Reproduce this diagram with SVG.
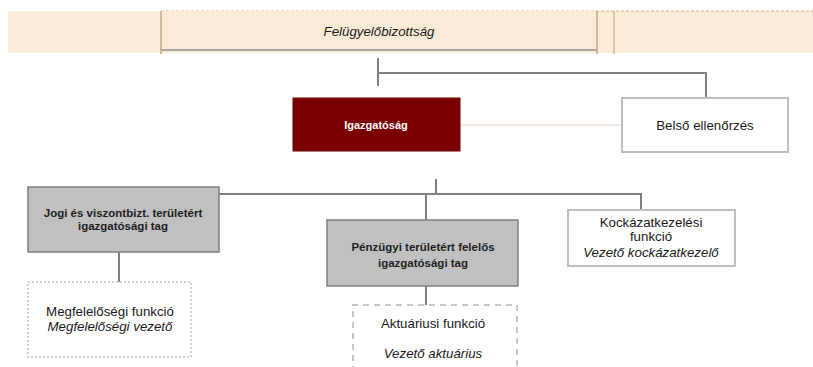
<svg xmlns="http://www.w3.org/2000/svg" width="813" height="367" viewBox="0 0 813 367">
<style>
.t{font-family:"Liberation Sans",Arial,sans-serif;font-size:13.3px;fill:#1a1a1a;text-anchor:middle}
.i{font-style:italic}
.b{font-weight:bold;font-size:11.5px;fill:#1e1e1e}
.conn{stroke:#808080;stroke-width:2;fill:none}
.gray{fill:#c0c0c0;stroke:#7f7f7f;stroke-width:1.5}
.white{fill:#ffffff;stroke:#bfbfbf;stroke-width:2}
</style>
<rect width="813" height="367" fill="#ffffff"/>
<g id="band">
<rect x="8" y="11" width="805" height="42" fill="#fbebd9"/>
<line x1="161" y1="11" x2="813" y2="11" stroke="#d6b77a" stroke-width="1.2" stroke-dasharray="3,2"/>
<line x1="614" y1="11" x2="614" y2="54" stroke="#d9b98a" stroke-width="1.5"/>
</g>
<g id="felugyelobizottsag">
<rect x="161" y="11" width="436" height="39" fill="#faebd8"/>
<line x1="161" y1="50" x2="597" y2="50" stroke="#a8a8a8" stroke-width="2"/>
<line x1="161" y1="11" x2="161" y2="54" stroke="#c8a67c" stroke-width="1.5"/>
<line x1="597" y1="11" x2="597" y2="54" stroke="#c8a67c" stroke-width="1.5"/>
<text class="t i" x="379" y="36">Felügyelőbizottság</text>
</g>
<g id="connectors">
<path class="conn" d="M378 58V86"/>
<path class="conn" d="M378 73H706V98"/>
<line x1="460" y1="125" x2="622" y2="125" stroke="#e8d7c6" stroke-width="1"/>
<path class="conn" d="M436 179V194"/>
<path class="conn" d="M219 194H641V210"/>
<path class="conn" d="M426 194V220"/>
<path class="conn" d="M426 286V305"/>
<path class="conn" d="M119 252V282"/>
</g>
<g id="igazgatosag">
<rect x="293" y="98" width="167" height="53" fill="#7b0000" stroke="#6a0000" stroke-width="1"/>
<text class="t b" x="376" y="129" style="fill:#ffffff;font-size:11px">Igazgatóság</text>
</g>
<g id="belso">
<rect class="white" x="622" y="98" width="166" height="54"/>
<text class="t" x="705" y="130">Belső ellenőrzés</text>
</g>
<g id="jogi">
<rect class="gray" x="28" y="187" width="191" height="65"/>
<text class="t b" x="123" y="217">Jogi és viszontbizt. területért</text>
<text class="t b" x="123" y="230">igazgatósági tag</text>
</g>
<g id="penzugyi">
<rect class="gray" x="327" y="220" width="191" height="66"/>
<text class="t b" x="423" y="251">Pénzügyi területért felelős</text>
<text class="t b" x="423" y="267">igazgatósági tag</text>
</g>
<g id="kockazat">
<rect class="white" x="568" y="210" width="167" height="56"/>
<text class="t" x="651" y="227">Kockázatkezelési</text>
<text class="t" x="651" y="241">funkció</text>
<text class="t i" x="651" y="257">Vezető kockázatkezelő</text>
</g>
<g id="megfeleloseg">
<rect x="28" y="282" width="163" height="75" fill="#ffffff" stroke="#c4c4c4" stroke-width="1.5" stroke-dasharray="2,2"/>
<text class="t" x="110" y="316">Megfelelőségi funkció</text>
<text class="t i" x="110" y="331">Megfelelőségi vezető</text>
</g>
<g id="aktuarius">
<path d="M353 372V305H517V372" fill="#ffffff" stroke="#b4b4b4" stroke-width="1.5" stroke-dasharray="6,5"/>
<text class="t" x="433" y="328">Aktuáriusi funkció</text>
<text class="t i" x="433" y="358">Vezető aktuárius</text>
</g>
</svg>
